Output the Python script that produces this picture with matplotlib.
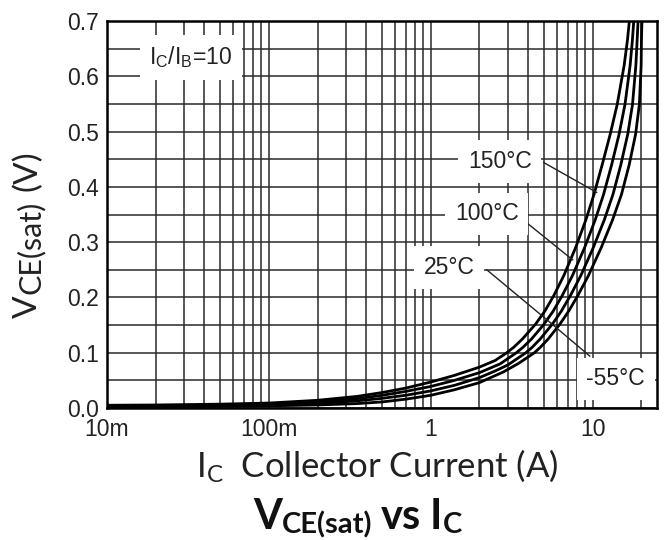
import matplotlib
matplotlib.use("Agg")
import matplotlib.pyplot as plt
from matplotlib.ticker import FixedLocator, LogLocator, NullFormatter, MultipleLocator

plt.rcParams['mathtext.fontset'] = 'custom'
plt.rcParams['mathtext.rm'] = 'Lato'
plt.rcParams['mathtext.bf'] = 'Lato:bold'

# collector current (A) and VCE(sat) (V)
ic_150 = [0.01, 0.02, 0.05, 0.1, 0.2, 0.35, 0.5, 0.7, 1.0, 1.4, 2.0, 2.5, 2.95, 3.26, 3.69, 4.45,
          5.06, 5.75, 6.65, 7.85, 9.08, 10.19, 11.46, 12.84, 14.19, 15.67, 16.41, 16.87]
vce_150 = [0.005, 0.0055, 0.007, 0.009, 0.014, 0.021, 0.028, 0.036, 0.047, 0.059, 0.074, 0.086, 0.1, 0.11, 0.125, 0.152,
           0.175, 0.203, 0.24, 0.29, 0.34, 0.386, 0.44, 0.495, 0.549, 0.62, 0.665, 0.7]

ic_100 = [0.01, 0.02, 0.05, 0.1, 0.2, 0.35, 0.5, 0.7, 1.0, 1.4, 2.0, 2.69, 3.38, 3.72, 4.20, 5.02,
          5.70, 6.48, 7.52, 8.92, 10.37, 11.68, 13.11, 14.57, 15.85, 17.06, 17.61, 17.96]
vce_100 = [0.004, 0.0042, 0.005, 0.007, 0.011, 0.017, 0.023, 0.030, 0.039, 0.050, 0.064, 0.080, 0.1, 0.11, 0.125, 0.152,
           0.175, 0.203, 0.24, 0.29, 0.34, 0.386, 0.44, 0.495, 0.549, 0.62, 0.665, 0.7]

ic_25 = [0.01, 0.02, 0.05, 0.1, 0.2, 0.35, 0.5, 0.7, 1.0, 1.4, 2.0, 2.5, 3.0, 3.87, 4.24, 4.75, 5.65,
         6.40, 7.28, 8.47, 10.09, 11.80, 13.35, 14.94, 16.48, 17.64, 18.51, 18.84, 19.09]
vce_25 = [0.003, 0.0033, 0.004, 0.0055, 0.0085, 0.013, 0.0175, 0.023, 0.031, 0.041, 0.055, 0.067, 0.078, 0.1, 0.11, 0.125, 0.152,
          0.175, 0.203, 0.24, 0.29, 0.34, 0.386, 0.44, 0.495, 0.549, 0.62, 0.665, 0.7]

ic_m55 = [0.01, 0.02, 0.05, 0.1, 0.2, 0.35, 0.5, 0.7, 1.0, 1.4, 2.0, 2.8, 3.5, 4.37, 4.76, 5.32, 6.29,
          7.11, 8.09, 9.44, 11.30, 13.27, 15.07, 16.83, 18.43, 19.45, 19.95, 20.04, 20.18]
vce_m55 = [0.002, 0.0025, 0.003, 0.004, 0.0055, 0.008, 0.011, 0.016, 0.023, 0.033, 0.046, 0.065, 0.081, 0.1, 0.11, 0.125, 0.152,
           0.175, 0.203, 0.24, 0.29, 0.34, 0.386, 0.44, 0.495, 0.549, 0.62, 0.665, 0.7]

x_ticks = [0.01, 0.1, 1, 10]
x_labels = ['10m', '100m', '1', '10']
y_ticks = [0.0, 0.1, 0.2, 0.3, 0.4, 0.5, 0.6, 0.7]

W, H = 666, 540
fig = plt.figure(figsize=(W / 100, H / 100), dpi=100)
ax = fig.add_axes([0.1607, 0.2444, 0.8258, 0.7167])

for ic, v in [(ic_150, vce_150), (ic_100, vce_100), (ic_25, vce_25), (ic_m55, vce_m55)]:
    ax.plot(ic, v, color='black', lw=2.0, zorder=3, solid_joinstyle='round')

ax.set_xscale('log')
ax.set_xlim(0.01, 25)
ax.set_ylim(0, 0.7)
ax.xaxis.set_major_locator(FixedLocator(x_ticks))
ax.set_xticklabels(x_labels)
ax.xaxis.set_minor_locator(LogLocator(base=10, subs=range(2, 10), numticks=20))
ax.xaxis.set_minor_formatter(NullFormatter())
ax.set_yticks(y_ticks)
ax.set_yticklabels(['%.1f' % t for t in y_ticks])
ax.yaxis.set_minor_locator(MultipleLocator(0.05))
ax.tick_params(which='both', length=0, labelsize=16.5, colors='#222222')
ax.tick_params(axis='x', pad=7)
ax.tick_params(axis='y', pad=6)
for lab in ax.get_xticklabels() + ax.get_yticklabels():
    lab.set_family('Liberation Sans')
ax.grid(which='both', color='#2a2a2a', lw=1.1, zorder=1)
ax.set_axisbelow(True)
for sp in ax.spines.values():
    sp.set_linewidth(1.8)
    sp.set_zorder(5)

box = dict(facecolor='white', edgecolor='none', pad=7)
tkw = dict(family='Liberation Sans', fontsize=16.5, color='#222222', ha='center', va='center', zorder=4, bbox=box)
ax.text(0.0329, 0.634, r'$\mathregular{I_C/I_B}$=10', **tkw)
ax.text(2.67, 0.446, '150°C', **tkw)
ax.text(2.22, 0.351, '100°C', **tkw)
ax.text(1.30, 0.254, '25°C', **tkw)
ax.text(13.9, 0.0525, '-55°C', **tkw)

# leader lines
lkw = dict(color='#222222', lw=1.0, zorder=3.5)
ax.plot([4.99, 10.6], [0.444, 0.39], **lkw)
ax.plot([3.92, 7.53], [0.335, 0.268], **lkw)
ax.plot([2.22, 5.5], [0.25, 0.154], **lkw)
ax.plot([9.6, 5.5], [0.094, 0.154], **lkw)

renderer = fig.canvas.get_renderer()


def chain(pieces, x0, y0, rot=0, center=False, color='#222222'):
    # lay text pieces one after another (pixel coords from top-left), subscripts shifted
    texts = []
    for s, size, shift, gap, weight in pieces:
        t = fig.text(0, 0, s, rotation=rot, rotation_mode='anchor', ha='left', va='baseline',
                     family='Lato', fontsize=size, fontweight=weight, color=color)
        ext = t.get_window_extent(renderer)
        texts.append((t, shift, gap, ext.height if rot else ext.width))
    total = sum(g + w for _, _, g, w in texts)
    pos = -total / 2 if center else 0
    for t, shift, gap, w in texts:
        pos += gap
        if rot:
            t.set_position(((x0 + shift) / W, (H - y0 + pos) / H))
        else:
            t.set_position(((x0 + pos) / W, (H - y0 - shift) / H))
        pos += w


chain([('V', 24, 0, 0, 'normal'), ('CE(sat)', 22, 3, 1, 'normal'), ('(V)', 24, 0, 10, 'normal')],
      37, 318, rot=90)
chain([('V', 30, 0, 0, 'bold'), ('CE(sat)', 21, 4, 0, 'bold'), ('vs', 30, 0, 8, 'bold'),
       ('I', 30, 0, 9, 'bold'), ('C', 21, 4, 1, 'bold')],
      358, 529, center=True, color='#111111')
fig.text(377 / W, 1 - 466 / H, r'$\mathregular{I_C}$  Collector Current (A)',
         ha='center', va='center', family='Lato', fontsize=25, color='#222222')

fig.savefig('out.png', dpi=100)
